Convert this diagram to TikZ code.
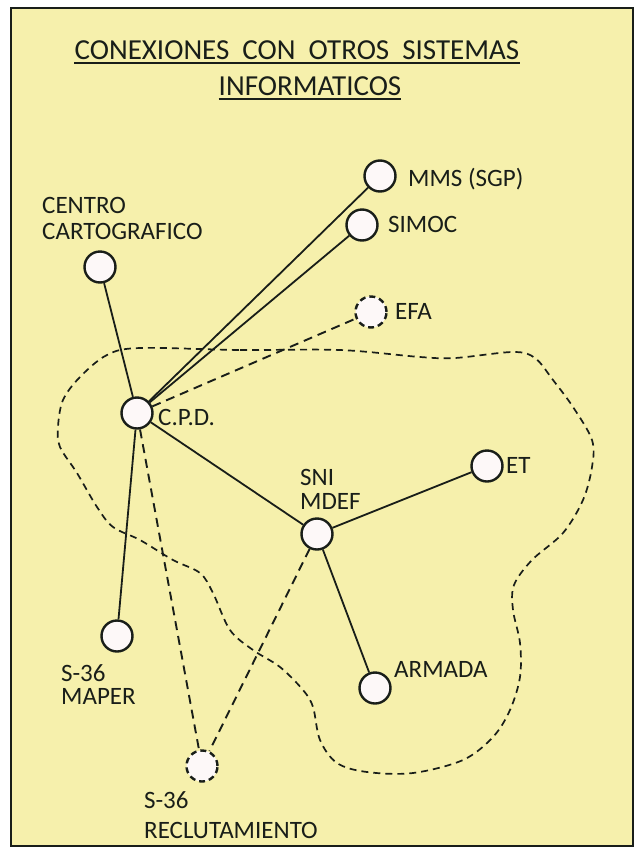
\documentclass[tikz,border=0pt]{standalone}
\usepackage{fontspec}
\setmainfont{Carlito}
\definecolor{bgyellow}{RGB}{246,240,172}
\definecolor{nodefill}{RGB}{253,248,248}
\definecolor{ink}{RGB}{25,30,25}
\begin{document}
\begin{tikzpicture}[x=1pt,y=-1pt,
  site/.style={circle,draw=ink,fill=nodefill,line width=2.4pt,minimum size=31pt,inner sep=0pt},
  dsite/.style={site,dashed,dash pattern=on 6pt off 4pt},
  lbl/.style={inner sep=0pt,text=ink,font=\fontsize{25}{25}\selectfont,align=left},
  ttl/.style={inner sep=0pt,text=ink,font=\fontsize{29}{30}\selectfont},
  link/.style={draw=ink,line width=1.8pt},
  dlink/.style={draw=ink,line width=1.9pt,dash pattern=on 9pt off 6pt},
  blob/.style={draw=ink,line width=1.7pt,dash pattern=on 7pt off 5pt}]
\useasboundingbox (0,0) rectangle (642,849);
\fill[white] (0,0) rectangle (642,849);
\draw[fill=bgyellow,draw=ink,line width=2.2pt] (11,8) rectangle (633,846);
% title
\node[ttl,anchor=base] (t1) at (297,59) {CONEXIONES\ \ CON\ \ OTROS\ \ SISTEMAS};
\node[ttl,anchor=base] (t2) at (310,95) {INFORMATICOS};
\draw[ink,line width=1.8pt] ([yshift=-4pt]t1.base west) -- ([yshift=-4pt]t1.base east);
\draw[ink,line width=1.8pt] ([yshift=-4pt]t2.base west) -- ([yshift=-4pt]t2.base east);
% region
\draw[blob] plot[smooth cycle, tension=0.55] coordinates {
 (140,348) (240,350) (340,350) (420,357) (455,358) (513,352) (535,358) (553,380)
 (573,407) (592,440) (592,467) (583,500) (563,533) (532,560) (514,585) (513,610)
 (520,643) (520,677) (510,710) (493,737) (463,760) (413,773) (367,772) (337,763)
 (320,740) (313,707) (303,690) (280,667) (253,650) (230,630) (213,593) (200,573)
 (173,560) (140,540) (113,527) (97,507) (77,473) (60,447) (58,427) (63,400)
 (80,377) (107,355)};
% nodes
\node[site] (mms) at (380,176) {};
\node[site] (simoc) at (362,225) {};
\node[dsite] (efa) at (371,312) {};
\node[site] (centro) at (100,267) {};
\node[site] (cpd) at (137,413) {};
\node[site] (sni) at (317,534) {};
\node[site] (et) at (487,466) {};
\node[site] (maper) at (117,636) {};
\node[site] (armada) at (375,688) {};
\node[dsite] (recl) at (202,766) {};
% labels
\node[lbl,anchor=base west] (lmms) at (408,186) {MMS (SGP)};
\node[lbl,anchor=base west] (lsimoc) at (388,232) {SIMOC};
\node[lbl,anchor=base west] (lefa) at (395,319) {EFA};
\node[lbl,anchor=north west,font=\fontsize{25}{26}\selectfont] (lcentro) at (42,197) {CENTRO\\CARTOGRAFICO};
\node[lbl,anchor=base west] (lcpd) at (158,425) {C.P.D.};
\node[lbl,anchor=north west,font=\fontsize{25}{24}\selectfont] (lsni) at (300,469) {SNI\\MDEF};
\node[lbl,anchor=base west] (let) at (506,473) {ET};
\node[lbl,anchor=north west,font=\fontsize{25}{23}\selectfont] (lmaper) at (61,664) {S-36\\MAPER};
\node[lbl,anchor=base west] (larmada) at (394,677) {ARMADA};
\node[lbl,anchor=north west,font=\fontsize{25}{30}\selectfont] (lrecl) at (144,791) {S-36\\RECLUTAMIENTO};
% connectors
\draw[link] (cpd) -- (centro);
\draw[link] (cpd) -- (mms);
\draw[link] (cpd) -- (simoc);
\draw[dlink] (cpd) -- (efa);
\draw[link] (cpd) -- (sni);
\draw[link] (cpd) -- (maper);
\draw[dlink] (cpd) -- (recl);
\draw[link] (sni) -- (et);
\draw[link] (sni) -- (armada);
\draw[dlink] (sni) -- (recl);
\end{tikzpicture}
\end{document}
